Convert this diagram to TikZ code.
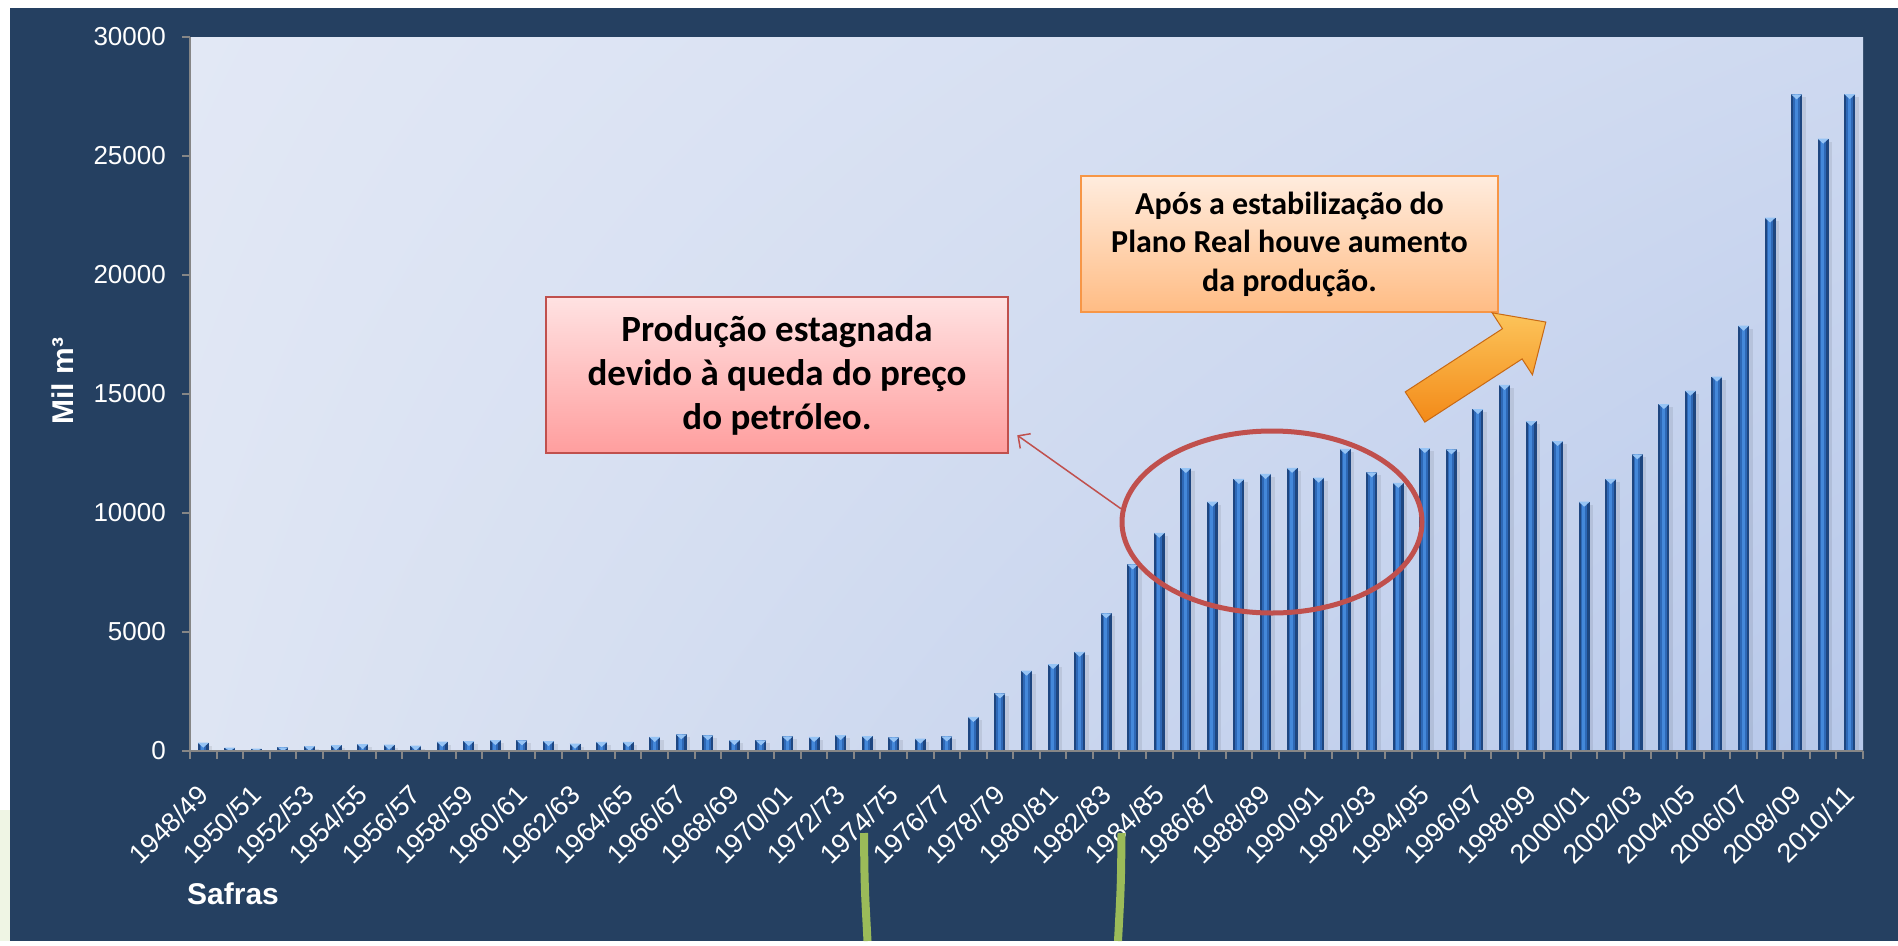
\documentclass[tikz,border=0pt]{standalone}
\usepackage{fontspec}
\setmainfont{Liberation Sans}
\newfontfamily\boxfont{Carlito}
\usepackage{tikz}
\usepackage{xcolor}
\usetikzlibrary{shapes.geometric,arrows.meta,shadings}
\definecolor{navy}{RGB}{37,64,97}
\definecolor{axisgray}{RGB}{134,134,134}
\definecolor{barDark}{RGB}{30,70,128}
\definecolor{barMid}{RGB}{46,104,182}
\definecolor{barLight}{RGB}{68,136,218}
\definecolor{barCap}{RGB}{150,196,245}
\definecolor{plotUL}{RGB}{226,232,245}
\definecolor{plotUR}{RGB}{206,217,240}
\definecolor{plotLL}{RGB}{222,229,243}
\definecolor{plotLR}{RGB}{183,200,234}
\definecolor{ovalRed}{RGB}{192,80,77}
\definecolor{pinkTop}{RGB}{255,226,226}
\definecolor{pinkBot}{RGB}{255,158,158}
\definecolor{peachTop}{RGB}{255,236,222}
\definecolor{peachBot}{RGB}{255,188,132}
\definecolor{boxOrange}{RGB}{247,150,70}
\definecolor{arrowOrange}{RGB}{243,138,24}
\definecolor{arrowLight}{RGB}{252,196,90}
\definecolor{arrowDark}{RGB}{200,105,20}
\definecolor{leafGreen}{RGB}{155,187,89}
\definecolor{leafTint}{RGB}{239,245,228}

\tikzset{
  tick label/.style={text=white, inner sep=0pt, font=\fontsize{26}{30}\selectfont},
  cat label/.style={tick label, rotate=45, anchor=east, font=\fontsize{27}{30}\selectfont},
  axis title/.style={text=white, inner sep=0pt, font=\bfseries\fontsize{30}{36}\selectfont},
  stag box/.style={draw=ovalRed, line width=2.5pt, top color=pinkTop, bottom color=pinkBot,
    minimum width=462pt, minimum height=156pt, align=center,
    font=\boxfont\bfseries\fontsize{37}{44}\selectfont},
  real box/.style={draw=boxOrange, line width=2.5pt, top color=peachTop, bottom color=peachBot,
    minimum width=417pt, minimum height=136pt, align=center,
    font=\boxfont\bfseries\fontsize{32}{38.5}\selectfont}
}

\begin{document}
\begin{tikzpicture}[x=1pt,y=-1pt]
                % Page and dark frame
                \fill[white] (0,0) rectangle (1898,941);
                \fill[leafTint] (0,810) rectangle (10,941);
                \fill[navy] (10,8) rectangle (1898,941);

                % Plot area
                \shade[upper left=plotUL, upper right=plotUR, lower left=plotLL, lower right=plotLR]
                    (190,37) rectangle (1863,751);

                % Bars (thousands of m3 per safra)
                \foreach \v [count=\i] in {0.35,0.14,0.10,0.15,0.21,0.25,0.29,0.265,0.225,0.39,
                    0.42,0.46,0.45,0.42,0.31,0.38,0.38,0.59,0.70,0.66,
                    0.46,0.45,0.62,0.59,0.67,0.63,0.575,0.52,0.61,1.43,
                    2.42,3.375,3.655,4.17,5.785,7.84,9.17,11.89,10.48,11.43,
                    11.64,11.90,11.485,12.69,11.71,11.265,12.73,12.675,14.37,15.38,
                    13.865,13.025,10.475,11.43,12.465,14.58,15.14,15.73,17.87,22.415,
                    27.59,25.73,27.60} {
                    \pgfmathsetmacro\bx{190+26.556*(\i-0.5)}
                    \pgfmathsetmacro\by{751-23.8*\v}
                    \pgfmathsetmacro\cy{min(\by+5,751)}
                    \pgfmathsetmacro\sy{min(\by+3,751)}
                    \fill[black, opacity=0.08] (\bx+5.5,\sy) rectangle (\bx+9,751);
                    \fill[barDark] (\bx-5.5,751) rectangle (\bx+5.5,\by);
                    \fill[barMid] (\bx-3.5,751) rectangle (\bx+3,\by);
                    \fill[barLight] (\bx-2,751) rectangle (\bx+1,\by);
                    \fill[barCap] (\bx-5.5,\by) -- (\bx+5.5,\by) -- (\bx,\cy) -- cycle;
                }

                % Axes
                \draw[axisgray, line width=2.5pt] (190,37) -- (190,751);
                \draw[axisgray, line width=2.5pt] (182,751) -- (1863,751);
                \foreach \k in {0,...,6} {
                    \pgfmathtruncatemacro\val{5*\k}
                    \draw[axisgray, line width=2.5pt] (182,751-119*\k) -- (190,751-119*\k);
                    \node[tick label, anchor=east] (ylab\k) at (166,751-119*\k) {\ifnum\val=0 0\else\val000\fi};
                }
                \foreach \k in {0,...,63}
                    \draw[axisgray, line width=2pt] (190+26.556*\k,751) -- (190+26.556*\k,759);

                % Safras labels
                \foreach \lab [count=\j] in {1948/49,1950/51,1952/53,1954/55,1956/57,1958/59,
                    1960/61,1962/63,1964/65,1966/67,1968/69,1970/01,1972/73,1974/75,
                    1976/77,1978/79,1980/81,1982/83,1984/85,1986/87,1988/89,1990/91,
                    1992/93,1994/95,1996/97,1998/99,2000/01,2002/03,2004/05,2006/07,
                    2008/09,2010/11}
                    \node[cat label] (cat\j) at ({190+26.556*(2*\j-1.5)},790) {\lab};

                % Axis titles
                \node[axis title, anchor=base west] (safras) at (187,904) {Safras};
                \node[axis title, rotate=90, anchor=base] (milm) at (73,381) {Mil m³};

                % Stagnation note
                \node[draw=ovalRed, line width=5pt, ellipse, minimum width=300pt,
                    minimum height=182pt, inner sep=0pt] (stagCircle) at (1272,522) {};
                \node[stag box] (stagBox) at (777,375)
                    {Produção estagnada\\devido à queda do preço\\do petróleo.};
                \draw[ovalRed, line width=1.5pt, -{Straight Barb[length=9pt,width=18pt]}]
                    (stagCircle.175) -- ([xshift=8pt,yshift=19pt]stagBox.south east);

                % Plano Real note
                \node[real box] (realBox) at (1289.5,244)
                    {Após a estabilização do\\Plano Real houve aumento\\da produção.};
                \begin{scope}[shift={(1415,407)}, rotate=33]
                    \shade[top color=arrowLight, bottom color=arrowOrange, draw=arrowDark, line width=1pt]
                        (0,-18) -- (116,-18) -- (116,-37) -- (156,0) -- (116,37) -- (116,18) -- (0,18) -- cycle;
                \end{scope}

                % Green marks
                \draw[leafGreen, line width=8pt] (864,833) .. controls (864.5,885) .. (867.5,941);
                \draw[leafGreen, line width=8pt] (1121.5,833) .. controls (1121,885) .. (1118,941);
\end{tikzpicture}
\end{document}
